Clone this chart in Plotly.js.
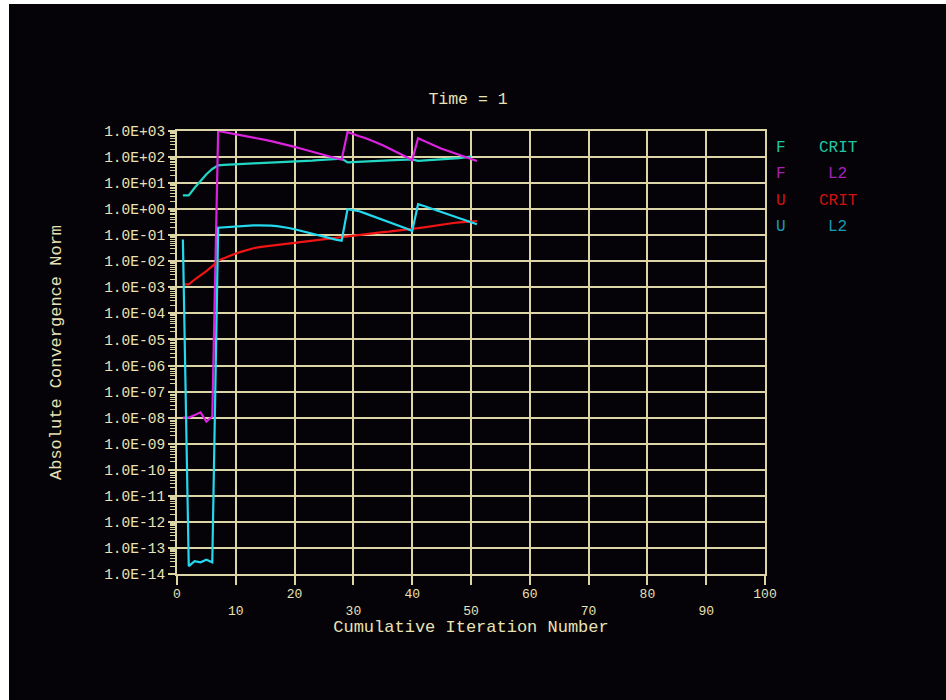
<!DOCTYPE html>
<html>
<head>
<meta charset="utf-8">
<script src="https://cdn.plot.ly/plotly-3.0.1.min.js"></script>
<style>
  html, body { margin: 0; padding: 0; background: #ffffff; width: 946px; height: 700px; overflow: hidden; }
  #chart { position: absolute; left: 9px; top: 4px; width: 937px; height: 696px; background: #050307; }
</style>
</head>
<body>
<div id="chart"></div>
<script>
// ---- data ----
const iterF = [1,2,3,4,5,6,7,8,9,10,11,12,13,14,15,16,17,18,19,20,21,22,23,24,25,26,27,28,29,30,31,32,33,34,35,36,37,38,39,40,41,42,43,44,45,46,47,48,49,50];
const fCrit = [3.4,3.4,6.6,12.6,22,35,48,50,52,54,55,56,57.5,59,60,61.5,63,64.5,66,67.6,69,71,72.5,76,79,83,85,87,62,63,64.5,66,67.6,69,71,74,76,77.6,79,81,72,74,76,77.6,79,83,87,91,98,105];

const iter = [1,2,3,4,5,6,7,8,9,10,11,12,13,14,15,16,17,18,19,20,21,22,23,24,25,26,27,28,29,30,31,32,33,34,35,36,37,38,39,40,41,42,43,44,45,46,47,48,49,50,51];
const fL2 = [1.0e-8,1.0e-8,1.25e-8,1.6e-8,7e-9,1.1e-8,1000,912,832,741,676,617,562,501,457,407,363,324,282,245,214,186,166,145,126,110,95,79,912,741,631,537,447,355,282,224,170,132,100,76,525,417,316,251,209,174,145,120,100,85,71];
const uCrit = [1.3e-3,1.3e-3,2.0e-3,2.8e-3,4.2e-3,6.5e-3,0.0107,0.0132,0.0166,0.020,0.0234,0.0275,0.0316,0.0347,0.037,0.040,0.0427,0.0457,0.049,0.0525,0.056,0.060,0.0646,0.069,0.0724,0.0776,0.083,0.089,0.093,0.1,0.105,0.112,0.117,0.123,0.132,0.138,0.145,0.155,0.162,0.17,0.186,0.2,0.219,0.24,0.257,0.275,0.295,0.309,0.324,0.339,0.347];
const uL2 = [0.069,2.0e-14,3.1e-14,2.8e-14,3.5e-14,2.8e-14,0.195,0.204,0.214,0.224,0.229,0.234,0.24,0.24,0.24,0.234,0.224,0.209,0.19,0.17,0.148,0.129,0.112,0.098,0.085,0.076,0.0676,0.0617,1.0,0.91,0.83,0.69,0.575,0.48,0.40,0.33,0.275,0.229,0.182,0.145,1.55,1.32,1.1,0.91,0.76,0.63,0.525,0.447,0.372,0.316,0.263];

const seriesNames = ['F CRIT','F L2','U CRIT','U L2'];
const legendLeft = ['F','F','U','U'];
const legendRight = ['CRIT','L2','CRIT','L2'];

const xTickVals = [0,10,20,30,40,50,60,70,80,90,100];
const xTickText = ['0','\u00a0<br>10','20','\u00a0<br>30','40','\u00a0<br>50','60','\u00a0<br>70','80','\u00a0<br>90','100'];
const yTickVals = [1e-14,1e-13,1e-12,1e-11,1e-10,1e-9,1e-8,1e-7,1e-6,1e-5,1e-4,1e-3,1e-2,1e-1,1e0,1e1,1e2,1e3];
const yTickText = ['1.0E-14','1.0E-13','1.0E-12','1.0E-11','1.0E-10','1.0E-09','1.0E-08','1.0E-07','1.0E-06','1.0E-05','1.0E-04','1.0E-03','1.0E-02','1.0E-01','1.0E+00','1.0E+01','1.0E+02','1.0E+03'];

// minor log ticks (2..9 in each decade) – axis decoration only
const yMinorVals = [];
for (let e = -14; e < 3; e++) {
  for (let m = 2; m <= 9; m++) yMinorVals.push(m * Math.pow(10, e));
}

// ---- styles ----
const lineColors = ['#22d6c4','#dc22e0','#f01414','#24d8ee'];
const legendColors = ['#1ec8a4','#a422b8','#d01212','#1a9cb4'];
const fg = '#e8e2b6';
const grid = '#dcd6a6';
const mono = 'Liberation Mono, DejaVu Sans Mono, monospace';

const traces = [
  {x: iterF, y: fCrit, name: seriesNames[0]},
  {x: iter, y: fL2, name: seriesNames[1]},
  {x: iter, y: uCrit, name: seriesNames[2]},
  {x: iter, y: uL2, name: seriesNames[3]}
].map((t, i) => Object.assign(t, {
  type: 'scatter', mode: 'lines',
  line: {color: lineColors[i], width: 2.2},
  showlegend: false, hoverinfo: 'skip'
}));

const legYPx = [148, 174, 201, 227];
const annotations = [];
for (let i = 0; i < 4; i++) {
  annotations.push({
    xref: 'paper', yref: 'paper', x: 1.027, y: (574 - legYPx[i]) / 443,
    text: legendLeft[i], showarrow: false, xanchor: 'center', yanchor: 'middle',
    font: {family: mono, size: 16, color: legendColors[i]}
  });
  annotations.push({
    xref: 'paper', yref: 'paper', x: 1.124, y: (574 - legYPx[i]) / 443,
    text: legendRight[i], showarrow: false, xanchor: 'center', yanchor: 'middle',
    font: {family: mono, size: 16, color: legendColors[i]}
  });
}

const layout = {
  width: 937, height: 696,
  paper_bgcolor: '#050307', plot_bgcolor: '#050307',
  margin: {l: 168, r: 181, t: 127, b: 126, pad: 0},
  title: {
    text: 'Time = 1', x: (468 - 9) / 937, xanchor: 'center',
    y: 1 - (98 - 4) / 696, yanchor: 'middle', xref: 'container', yref: 'container',
    font: {family: mono, size: 16.5, color: fg}
  },
  xaxis: {
    range: [0, 100], tickmode: 'array', tickvals: xTickVals, ticktext: xTickText,
    showgrid: true, gridcolor: grid, gridwidth: 2,
    showline: true, linecolor: grid, linewidth: 2, mirror: true,
    ticks: 'outside', ticklen: 9, tickwidth: 2, tickcolor: grid,
    ticklabelstandoff: -3,
    zeroline: false,
    tickfont: {family: mono, size: 13, color: fg},
    title: {text: 'Cumulative Iteration Number', standoff: 0, font: {family: mono, size: 17, color: fg}}
  },
  yaxis: {
    type: 'log', range: [-14, 3], tickmode: 'array', tickvals: yTickVals, ticktext: yTickText,
    showgrid: true, gridcolor: grid, gridwidth: 2,
    showline: true, linecolor: grid, linewidth: 2, mirror: true,
    ticks: 'outside', ticklen: 7, tickwidth: 2, tickcolor: grid,
    zeroline: false,
    minor: {ticks: 'outside', ticklen: 5, tickwidth: 1, tickcolor: grid, showgrid: false, tickmode: 'array', tickvals: yMinorVals},
    tickfont: {family: mono, size: 14.5, color: fg},
    title: {text: 'Absolute Convergence Norm', standoff: 38, font: {family: mono, size: 17, color: fg}}
  },
  annotations: annotations,
  showlegend: false
};

Plotly.newPlot('chart', traces, layout, {displayModeBar: false, staticPlot: true});
</script>
</body>
</html>
